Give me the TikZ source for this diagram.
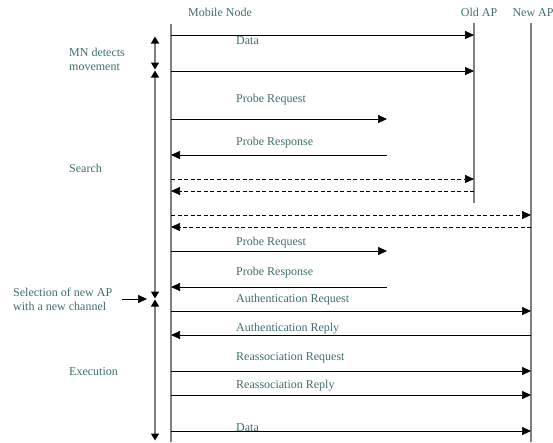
\documentclass[tikz,border=0pt]{standalone}
\usepackage{fontspec}
\setmainfont{Liberation Serif}
\definecolor{LabelTeal}{RGB}{62, 110, 110}
\definecolor{LineGray}{RGB}{128, 128, 128}
\usetikzlibrary{arrows.meta, positioning, calc}

\begin{document}
\begin{tikzpicture}[
            x=1pt, y=-1pt,
            lbl/.style={inner sep=0pt, text=LabelTeal, font=\fontsize{12}{14}\selectfont},
            msglbl/.style={lbl, anchor=base west},
            lifeline/.style={LineGray, line width=1.4pt},
            msg/.style={-{Triangle[length=9pt, width=8pt]}, line width=0.7pt, black},
            dmsg/.style={msg, dashed, dash pattern=on 4pt off 2.5pt},
            phase/.style={{Triangle[length=7pt, width=8pt, color=black]}-{Triangle[length=7pt, width=8pt, color=black]},
                          LineGray, line width=1.4pt, shorten <=-0.5pt, shorten >=-0.5pt}
        ]
            \useasboundingbox (0,0) rectangle (553,442);

            % lifelines
            \node[lbl, anchor=base] (mn) at (220,16) {Mobile Node};
            \node[lbl, anchor=base] (old) at (479,16) {Old AP};
            \node[lbl, anchor=base] (new) at (533,16) {New AP};
            \coordinate (mnTop) at (171,24);
            \coordinate (mnBot) at (171,442);
            \coordinate (oldTop) at (474,23);
            \coordinate (oldBot) at (474,203);
            \coordinate (newTop) at (531,23);
            \coordinate (newBot) at (531,442);
            \coordinate (probe) at (387,0);
            \draw[lifeline] (mnTop) -- (mnBot);
            \draw[lifeline] (oldTop) -- (oldBot);
            \draw[lifeline] (newTop) -- (newBot);

            % phases
            \coordinate (ph0) at (155,37);
            \coordinate (ph1) at (155,69);
            \coordinate (ph1b) at (155,71);
            \coordinate (ph2) at (155,298);
            \coordinate (ph2b) at (155,300);
            \coordinate (ph3) at (155,440);
            \draw[phase] (ph1) -- (ph0);
            \draw[phase] (ph2) -- (ph1b);
            \draw[phase] (ph3) -- (ph2b);
            \node[lbl, anchor=west, align=left] (detect) at (69,59) {MN detects\\movement};
            \node[lbl, anchor=west] (search) at (69,168) {Search};
            \node[lbl, anchor=west, align=left] (select) at (13,299) {Selection of new AP\\with a new channel};
            \node[lbl, anchor=west] (exec) at (69,372) {Execution};
            \coordinate (selTip) at (147,299);
            \draw[msg] ([xshift=10pt]select.east |- selTip) -- (selTip);

            % messages
            \foreach \y/\to in {35/oldTop, 71/oldTop, 311/newTop, 371/newTop, 395/newTop, 431/newTop}
                \draw[msg] (mnTop |- 0,\y) -- (\to |- 0,\y);
            \foreach \y in {119, 251}
                \draw[msg] (mnTop |- 0,\y) -- (probe |- 0,\y);
            \foreach \y in {155, 287}
                \draw[msg] (probe |- 0,\y) -- (mnTop |- 0,\y);
            \draw[msg] (newTop |- 0,335) -- (mnTop |- 0,335);
            \draw[dmsg] (mnTop |- 0,179) -- (oldTop |- 0,179);
            \draw[dmsg] (oldTop |- 0,191) -- (mnTop |- 0,191);
            \draw[dmsg] (mnTop |- 0,215) -- (newTop |- 0,215);
            \draw[dmsg] (newTop |- 0,227) -- (mnTop |- 0,227);

            \node[msglbl] (data1) at (236,44) {Data};
            \node[msglbl] (preq1) at (236,102) {Probe Request};
            \node[msglbl] (pres1) at (236,145) {Probe Response};
            \node[msglbl] (preq2) at (236,245) {Probe Request};
            \node[msglbl] (pres2) at (236,275) {Probe Response};
            \node[msglbl] (areq) at (236,302) {Authentication Request};
            \node[msglbl] (arep) at (236,331) {Authentication Reply};
            \node[msglbl] (rreq) at (236,360) {Reassociation Request};
            \node[msglbl] (rrep) at (236,388) {Reassociation Reply};
            \node[msglbl] (data2) at (236,431) {Data};
        \end{tikzpicture}
\end{document}
